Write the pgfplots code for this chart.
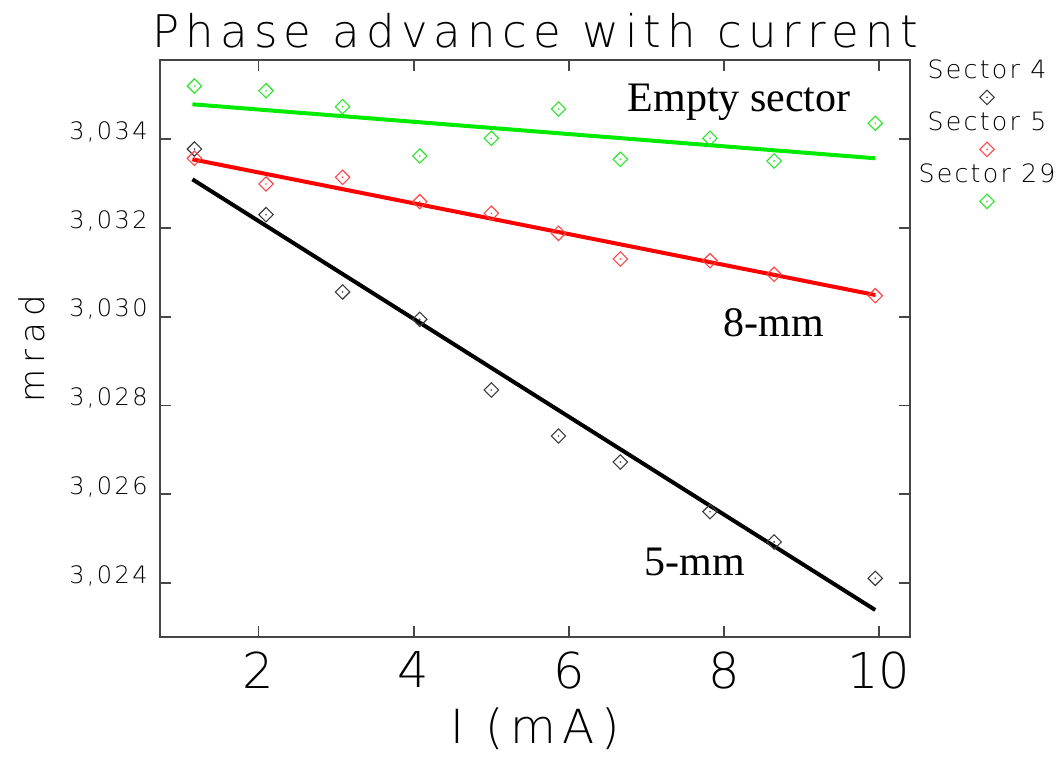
\documentclass[border=0pt]{standalone}
\usepackage{fontspec}
\usepackage{pgfplots}
\pgfplotsset{compat=1.18}
\setmainfont{Liberation Serif}
\newfontfamily\hf{DejaVu Sans ExtraLight}

\definecolor{mgray}{RGB}{60,60,60}
\definecolor{mred}{RGB}{255,70,70}
\definecolor{mgreen}{RGB}{40,230,40}
\definecolor{lred}{RGB}{255,0,0}
\definecolor{lgreen}{RGB}{0,235,0}
\definecolor{frame}{RGB}{70,70,70}

% diamond with a dot in the middle
\pgfdeclareplotmark{dd}{%
  \pgfpathmoveto{\pgfqpoint{0pt}{\pgfplotmarksize}}%
  \pgfpathlineto{\pgfqpoint{\pgfplotmarksize}{0pt}}%
  \pgfpathlineto{\pgfqpoint{0pt}{-\pgfplotmarksize}}%
  \pgfpathlineto{\pgfqpoint{-\pgfplotmarksize}{0pt}}%
  \pgfpathclose\pgfusepathqstroke
  \pgfpathcircle{\pgfpointorigin}{0.45pt}\pgfusepathqfill}

\pgfplotsset{
  sector/.style={only marks, mark=dd, mark size=3.6pt, line width=0.55pt},
  sector leg/.style={legend image code/.code={%
      \path[draw=none, fill=none] (-34pt,-16pt) rectangle (34pt,10pt);
      \node[anchor=base, inner sep=0pt, draw=none, fill=none, text=black,
        font=\hf\fontsize{12.6}{14}\selectfont\addfontfeatures{LetterSpace=9}] at (0,0) {#1};
      \draw[##1] plot coordinates {(0pt,-9.5pt)};}},
}

\begin{document}
\begin{tikzpicture}
\useasboundingbox (-80pt,-60pt) rectangle (450pt,318.5pt);
\begin{axis}[
    at={(0,0)}, anchor=south west,
    scale only axis, width=375pt, height=288.5pt,
    xmin=0.73, xmax=10.40,
    ymin=3.022783, ymax=3.035787,
    clip mode=individual,
    axis line style={draw=frame, line width=1pt},
    tick style={draw=frame, line width=0.9pt},
    tick align=inside, major tick length=5.5pt,
    xtick={2,4,6,8,10}, xticklabels={2,4,6,8,10},
    ytick={3.024,3.026,3.028,3.030,3.032,3.034},
    yticklabels={{3,024},{3,026},{3,028},{3,030},{3,032},{3,034}},
    scaled y ticks=false,
    xticklabel style={inner sep=0pt, yshift=-7pt,
      font=\hf\fontsize{24.7}{27}\selectfont},
    yticklabel style={inner sep=0pt, anchor=base east, xshift=-6pt,
      font=\hf\fontsize{12}{14}\selectfont\addfontfeatures{LetterSpace=10}},
    legend style={at={(axis description cs:1.104,1.0035)}, anchor=north,
      draw=none, fill=none, inner sep=0pt, row sep=0pt,
      nodes={inner sep=0pt, text depth=0pt}},
]
% fitted lines
\addplot[forget plot, lgreen, line width=2pt] coordinates {(1.148,3.034789) (9.952,3.033572)};
\addplot[forget plot, lred, line width=2pt] coordinates {(1.148,3.033549) (9.952,3.030491)};
\addplot[forget plot, black, line width=2pt] coordinates {(1.148,3.033098) (9.952,3.023392)};

% measured points
\addplot[sector, mgray, sector leg={Sector 4}] coordinates {
  (1.174,3.033781) (2.097,3.032301) (3.084,3.030559) (4.079,3.029943) (5.002,3.028350)
  (5.868,3.027313) (6.666,3.026727) (7.821,3.025607) (8.648,3.024924) (9.952,3.024106)};
\addlegendentry{\relax}
\addplot[sector, mred, sector leg={Sector 5}] coordinates {
  (1.174,3.033572) (2.097,3.032993) (3.084,3.033144) (4.079,3.032594) (5.002,3.032332)
  (5.868,3.031881) (6.666,3.031302) (7.821,3.031264) (8.648,3.030957) (9.952,3.030475)};
\addlegendentry{\relax}
\addplot[sector, mgreen, sector leg={Sector 29}] coordinates {
  (1.174,3.035201) (2.097,3.035095) (3.084,3.034735) (4.079,3.033624) (5.002,3.034023)
  (5.868,3.034683) (6.666,3.033549) (7.821,3.034023) (8.648,3.033511) (9.952,3.034361)};
\addlegendentry{\relax}

% annotations
\node[anchor=base west, inner sep=0pt, font=\fontsize{21}{24}\selectfont] at (axis cs:6.756,3.034622) {Empty sector};
\node[anchor=base west, inner sep=0pt, font=\fontsize{21}{24}\selectfont] at (axis cs:7.992,3.029551) {8-mm};
\node[anchor=base west, inner sep=0pt, font=\fontsize{21}{24}\selectfont] at (axis cs:6.975,3.024180) {5-mm};

% title and axis labels
\node[anchor=base, inner sep=0pt, font=\hf\fontsize{22.5}{26}\selectfont\addfontfeatures{LetterSpace=14}]
  at ([yshift=6.5pt]rel axis cs:0.5,1) {Phase advance with current};
\node[anchor=base, inner sep=0pt, font=\hf\fontsize{23.5}{26}\selectfont\addfontfeatures{LetterSpace=14}]
  at ([yshift=-53pt]rel axis cs:0.5,0) {I (mA)};
\node[rotate=90, anchor=center, inner sep=0pt, font=\hf\fontsize{17}{20}\selectfont\addfontfeatures{LetterSpace=18}]
  at ([xshift=-64pt]rel axis cs:0,0.5) {mrad};
\end{axis}
\end{tikzpicture}
\end{document}
